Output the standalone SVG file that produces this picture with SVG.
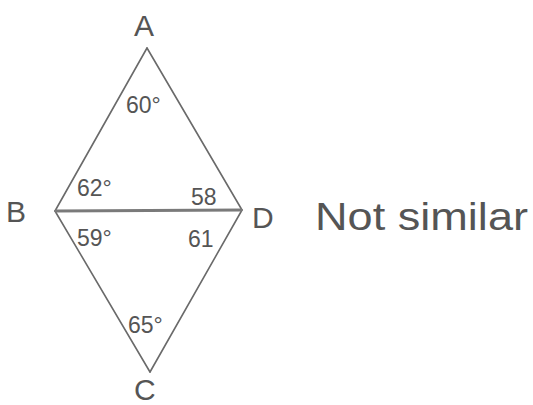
<svg xmlns="http://www.w3.org/2000/svg" width="533" height="405" viewBox="0 0 533 405">
<style>
.e{stroke:#6a6a6a;stroke-width:1.6;fill:none;stroke-linecap:round}
.bd{stroke:#7a7a7a;stroke-width:3;fill:none}
.t{font-family:"Liberation Sans",sans-serif;fill:#555;font-weight:normal}
.v{font-size:30px}
.a{font-size:23px}
</style>
<rect width="533" height="405" fill="#fff"/>
<g id="connectors">
<line class="e" x1="147" y1="48" x2="55" y2="211"/>
<line class="e" x1="147" y1="48" x2="242" y2="210"/>
<line class="e" x1="55" y1="211" x2="150" y2="372"/>
<line class="e" x1="242" y1="210" x2="150" y2="372"/>
<line class="bd" x1="55" y1="211" x2="242" y2="210"/>
</g>
<g id="A"><text class="t v" x="134" y="36">A</text><text class="t a" x="126" y="113">60°</text></g>
<g id="B"><text class="t v" x="6" y="222">B</text><text class="t a" x="77" y="196">62°</text><text class="t a" x="77" y="246">59°</text></g>
<g id="D"><text class="t v" x="252" y="228">D</text><text class="t a" x="191" y="205">58</text><text class="t a" x="188" y="247">61</text></g>
<g id="C"><text class="t v" x="134" y="400">C</text><text class="t a" x="128" y="333">65°</text></g>
<g id="note"><text class="t" x="315" y="230" font-size="38" textLength="213" lengthAdjust="spacingAndGlyphs">Not similar</text></g>
</svg>
